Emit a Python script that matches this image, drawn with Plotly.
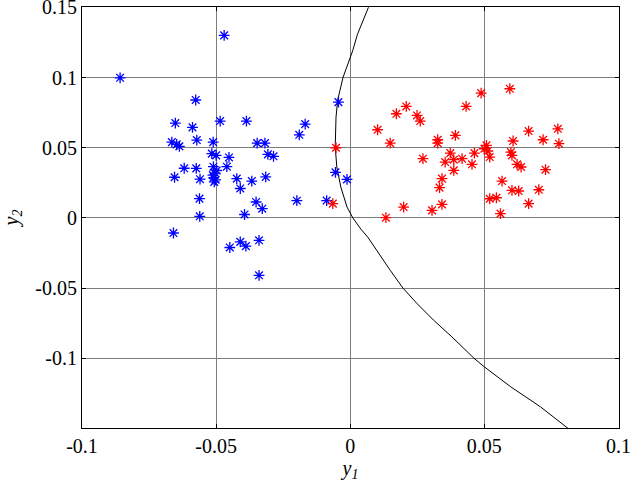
import plotly.graph_objects as go

# Class 1 (blue) samples
blue_y1 = [-0.0858, -0.047, -0.0576, -0.0652, -0.0588, -0.0485, -0.0387, -0.0572, -0.0665, -0.0647,
           -0.0637, -0.0511, -0.0347, -0.0318, -0.0516, -0.05, -0.0452, -0.0307, -0.0286, -0.0619,
           -0.0574, -0.051, -0.046, -0.0655, -0.056, -0.0504, -0.0509, -0.0507, -0.0502, -0.0423,
           -0.041, -0.0367, -0.0315, -0.0562, -0.0351, -0.0328, -0.0561, -0.0394, -0.0199, -0.019,
           -0.0168, -0.0044, -0.0055, -0.0012, -0.0088, -0.0659, -0.0449, -0.041, -0.0389, -0.034,
           -0.034, -0.0512, -0.0498]
blue_y2 = [0.0998, 0.130, 0.084, 0.0676, 0.0645, 0.069, 0.069, 0.0555, 0.054, 0.0524,
           0.051, 0.054, 0.0533, 0.0533, 0.0458, 0.0446, 0.0431, 0.0453, 0.0439, 0.0354,
           0.0353, 0.0365, 0.0365, 0.029, 0.0276, 0.032, 0.0288, 0.0257, 0.0272, 0.028,
           0.021, 0.0263, 0.0292, 0.0138, 0.0114, 0.0066, 0.0012, 0.0025, 0.0123, 0.0592,
           0.0668, 0.0825, 0.0325, 0.0275, 0.0124, -0.0107, -0.021, -0.017, -0.020, -0.0159,
           -0.0408, 0.0305, 0.0338]

# Class 2 (red) samples
red_y1 = [-0.0053, -0.0065, 0.0102, 0.0149, 0.0172, 0.0209, 0.0249, 0.0261, 0.0432, 0.0488,
          0.0595, 0.0326, 0.0326, 0.0392, 0.0271, 0.0373, 0.0354, 0.0386, 0.0417, 0.0463,
          0.0454, 0.0386, 0.0508, 0.05, 0.0513, 0.052, 0.0607, 0.0599, 0.0603, 0.0622,
          0.0637, 0.0665, 0.0719, 0.0774, 0.0778, 0.0728, 0.0342, 0.0333, 0.0566, 0.052,
          0.0545, 0.0603, 0.0628, 0.0703, 0.0665, 0.056, 0.0199, 0.0305, 0.0342, 0.0133]
red_y2 = [0.050, 0.0102, 0.0628, 0.0533, 0.0742, 0.0794, 0.073, 0.069, 0.0794, 0.0889,
          0.092, 0.0557, 0.0533, 0.0588, 0.0422, 0.0462, 0.0398, 0.0415, 0.0422, 0.0462,
          0.0382, 0.0339, 0.0517, 0.0493, 0.0477, 0.0434, 0.0548, 0.0469, 0.0446, 0.0382,
          0.0363, 0.0619, 0.0557, 0.0635, 0.0529, 0.0344, 0.028, 0.0216, 0.0263, 0.0137,
          0.0144, 0.0197, 0.0192, 0.0201, 0.0102, 0.0031, 0.0078, 0.0054, 0.0097, 0.0002]

# Decision boundary
curve_y1 = [0.0068, 0.0027, 0.0009, -0.0027, -0.0047, -0.0053, -0.0056, -0.005, -0.0035, -0.0012,
            0.001, 0.004, 0.0065, 0.0106, 0.0149, 0.0197, 0.0249, 0.0311, 0.0379, 0.046,
            0.05, 0.0597, 0.0709, 0.0812]
curve_y2 = [0.15, 0.1308, 0.119, 0.1, 0.0837, 0.0718, 0.0505, 0.0363, 0.022, 0.0078,
            0.0, -0.008, -0.0135, -0.0254, -0.0372, -0.05, -0.0609, -0.0728, -0.0846, -0.0996,
            -0.106, -0.12, -0.1344, -0.1498]

x_ticks = [-0.1, -0.05, 0, 0.05, 0.1]
x_tick_text = ["-0.1", "-0.05", "0", "0.05", "0.1"]
y_ticks = [-0.1, -0.05, 0, 0.05, 0.1, 0.15]
y_tick_text = ["-0.1", "-0.05", "0", "0.05", "0.1", "0.15"]

FONT = "Liberation Serif, Times New Roman, Times, serif"
BLUE = "rgb(0,0,255)"
RED = "rgb(255,0,0)"

fig = go.Figure()
fig.add_trace(go.Scatter(x=curve_y1, y=curve_y2, mode="lines",
                         line=dict(color="black", width=1), showlegend=False))
fig.add_trace(go.Scatter(x=blue_y1, y=blue_y2, mode="markers",
                         marker=dict(symbol="asterisk-open", size=9, color=BLUE,
                                     line=dict(color=BLUE, width=1.3)),
                         showlegend=False))
fig.add_trace(go.Scatter(x=red_y1, y=red_y2, mode="markers",
                         marker=dict(symbol="asterisk-open", size=9, color=RED,
                                     line=dict(color=RED, width=1.3)),
                         showlegend=False))

axis_common = dict(
    showline=True, linecolor="black", linewidth=1, mirror="allticks",
    ticks="inside", ticklen=4, tickcolor="black",
    showgrid=True, gridcolor="rgb(125,125,125)", gridwidth=1,
    zeroline=False, automargin=False, ticklabeloverflow="allow",
    tickfont=dict(family=FONT, size=20, color="black"),
)

fig.update_xaxes(range=[-0.1, 0.1002], tickvals=x_ticks, ticktext=x_tick_text,
                 title=dict(text="<i>y</i><sub><i>1</i></sub>",
                            font=dict(family=FONT, size=20, color="black"), standoff=1),
                 **axis_common)
fig.update_yaxes(range=[-0.1495, 0.1502], tickvals=y_ticks, ticktext=y_tick_text,
                 title=dict(text="<i>y</i><sub><i>2</i></sub>",
                            font=dict(family=FONT, size=20, color="black"), standoff=26),
                 **axis_common)

fig.update_layout(
    width=630, height=485,
    margin=dict(l=82, r=11, t=7, b=57),
    plot_bgcolor="white", paper_bgcolor="white",
    font=dict(family=FONT, color="black"),
)

fig.write_html("out.html",
               config={"displayModeBar": False},
               post_script="document.body.style.margin='0px';document.body.style.overflow='hidden';")
